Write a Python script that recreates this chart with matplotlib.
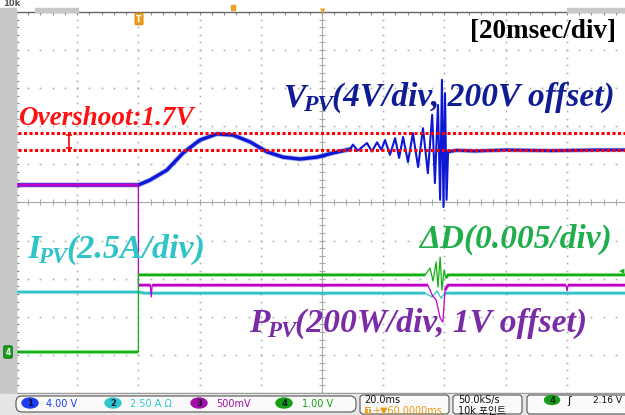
import matplotlib
matplotlib.use('Agg')
import matplotlib.pyplot as plt
from matplotlib.patches import Rectangle, FancyBboxPatch, Ellipse
import numpy as np

W, H = 625, 415

# values
# time in ms (20 ms/div, trigger at 0, 60 ms delay -> centre line at 60 ms)
# levels in screen divisions from the centre graticule line
vpv_rise_t = [-40, 0, 3.8, 9.3, 14.6, 20.1, 25.7, 30.9, 36.5, 42.0, 47.3, 52.8, 58.4, 63.6, 69.2]
vpv_rise_d = [0.46, 0.46, 0.59, 0.85, 1.30, 1.64, 1.80, 1.77, 1.59, 1.33, 1.19, 1.14, 1.19, 1.30, 1.40]

vpv_burst_t = [69.2, 70.1, 71.7, 74.7, 76.3, 78.0, 79.4, 80.6, 82.2, 83.9, 85.2, 86.5, 88.1, 89.7,
               91.4, 93.0, 94.6, 96.0, 96.9, 97.9, 98.6, 99.2, 99.7, 100.2, 100.7, 101.2]
vpv_burst_d = [1.40, 1.52, 1.36, 1.56, 1.34, 1.58, 1.38, 1.64, 1.25, 1.69, 1.17, 1.72, 1.06, 1.82,
               0.93, 1.95, 0.77, 2.30, 0.51, 2.56, 0.07, 3.22, -0.12, 2.87, 0.07, 1.33]

vpv_settle_t = [101.2, 104, 110, 120, 135, 150, 160]
vpv_settle_d = [1.33, 1.37, 1.35, 1.38, 1.36, 1.38, 1.38]

ppv_t = [-40, 0, 0, 3.9, 4.2, 4.5, 94.6, 96.0, 97.3, 98.6, 99.5, 100.2, 101.2, 139.7, 140.1, 140.4, 160]
ppv_d = [0.46, 0.46, -2.17, -2.17, -2.48, -2.17, -2.17, -2.43, -2.56, -3.03, -3.14, -2.30, -2.17,
         -2.17, -2.32, -2.17, -2.17]

dd_t = [-40, 0, 0, 93.7, 95.3, 96.3, 97.3, 97.9, 98.6, 99.2, 99.9, 100.5, 101.2, 160]
dd_d = [-3.92, -3.92, -1.90, -1.90, -1.72, -2.06, -1.56, -2.22, -1.43, -2.30, -1.77, -1.98, -1.90, -1.90]

ipv_t = [-40, 0, 2.0, 93.7, 96.0, 97.6, 98.9, 100.2, 160]
ipv_d = [-2.35, -2.35, -2.38, -2.38, -2.48, -2.32, -2.51, -2.38, -2.38]

# spans where the traces only show thin spikes
spike_windows = [(4.0, 4.4), (94.7, 100.1), (139.8, 140.3)]

overshoot_hi = 1.82   # V_PV peak
overshoot_lo = 1.39   # V_PV settled, 0.43 div * 4 V/div = 1.7 V
overshoot_t = -22.7

ch_nums = ['1', '2', '3', '4']
ch_scales = ['4.00 V', '2.50 A \u03a9', '500mV', '1.00 V']
ch_colors = ['#1c3cf0', '#2ec8cc', '#a010a8', '#14a014']
timebase = '20.0ms'
delay = '60.0000ms'
sample_rate = '50.0kS/s'
record = '10k 포인트'
trig_level = '2.16 V'

c_blue = '#0c18d4'
c_purple = '#c000c8'
c_green = '#12b012'
c_cyan = '#30c2c8'
serif = 'Liberation Serif'

fig = plt.figure(figsize=(W / 100, H / 100), dpi=100)
fig.patch.set_facecolor('white')

ax = fig.add_axes([16 / W, (H - 393) / H, 612 / W, 381 / H])
ax.set_xlim(-40, 160)
ax.set_ylim(-5, 5)
ax.set_xticks([])
ax.set_yticks([])
for s in ax.spines.values():
    s.set_color('#8c8c8c')
    s.set_linewidth(1)
ax.spines['top'].set_color('#666666')

# graticule
minor_d = np.arange(-5, 5.01, 0.2)
minor_t = np.arange(-40, 160.1, 4)
dot = dict(ls='none', marker='s', ms=1.2, mew=0, color='#b0b0b0', zorder=1)
for tv in range(-20, 160, 20):
    if tv != 60:
        ax.plot(np.full(len(minor_d), tv), minor_d, **dot)
for dv in range(-4, 5):
    if dv != 0:
        ax.plot(minor_t, np.full(len(minor_t), dv), **dot)
ax.axvline(60, color='#a8a8a8', lw=0.8, zorder=1)
ax.axhline(0, color='#a8a8a8', lw=0.8, zorder=1)
ax.plot(np.full(len(minor_d), 60), minor_d, ls='none', marker='_', ms=4, mew=0.8, color='#a8a8a8', zorder=1)
ax.plot(minor_t, np.zeros(len(minor_t)), ls='none', marker='|', ms=4, mew=0.8, color='#a8a8a8', zorder=1)
ax.plot(minor_t, np.full(len(minor_t), 5), ls='none', marker='|', ms=5, mew=0.8, color='#8c8c8c', zorder=1)
ax.plot(np.full(len(minor_d), -40), minor_d, ls='none', marker='_', ms=5, mew=0.8, color='#8c8c8c', zorder=1)


def trace(t, d, color, lw, z):
    t = np.asarray(t, dtype=float)
    d = np.asarray(d, dtype=float)
    ax.plot(t, d, color=color, lw=0.9, zorder=z)
    # thick noisy band only on the quiet parts; steps and spikes stay thin
    quiet = d.copy()
    for a, b in spike_windows:
        quiet[(t > a) & (t < b)] = np.nan
    jumps = np.where(np.diff(t) == 0)[0] + 1
    for tt, yy in zip(np.split(t, jumps), np.split(quiet, jumps)):
        ax.plot(tt, yy, color=color, lw=lw + 1.2, alpha=0.35, zorder=z, solid_capstyle='butt')
        ax.plot(tt, yy, color=color, lw=lw, zorder=z, solid_capstyle='butt')


ax.plot(vpv_rise_t, vpv_rise_d, color=c_blue, lw=3.6, alpha=0.35, zorder=3)
ax.plot(vpv_rise_t, vpv_rise_d, color=c_blue, lw=2.4, zorder=3)
ax.plot(vpv_burst_t, vpv_burst_d, color=c_blue, lw=1.5, zorder=3)
ax.plot(vpv_settle_t, vpv_settle_d, color=c_blue, lw=3.2, alpha=0.35, zorder=3)
ax.plot(vpv_settle_t, vpv_settle_d, color=c_blue, lw=2.0, zorder=3)
trace(ipv_t, ipv_d, c_cyan, 1.7, 4)
trace(ppv_t, ppv_d, c_purple, 1.7, 5)
trace(dd_t, dd_d, c_green, 1.7, 6)

# overshoot markers
for lvl in (overshoot_hi, overshoot_lo):
    ax.plot([-42.9, 165], [lvl, lvl], color='#ff0000', lw=2.2, ls=(0, (1, 0.8)),
            dash_capstyle='butt', clip_on=False, zorder=7)
ax.plot([overshoot_t, overshoot_t], [overshoot_lo, overshoot_hi], color='#ff0000', lw=1.2, zorder=7)
ax.plot([overshoot_t, overshoot_t], [overshoot_lo + 0.05, overshoot_hi - 0.05], ls='none',
        marker='_', ms=4, mew=1.2, color='#ff0000', zorder=7)

# overlay in pixel coordinates for the scope frame and the annotations
ov = fig.add_axes([0, 0, 1, 1], zorder=5)
ov.set_xlim(0, W)
ov.set_ylim(H, 0)
ov.axis('off')
ov.patch.set_visible(False)

ov.add_patch(Rectangle((0, 8), 15.5, 387, color='#c8c8c8', zorder=1))
ov.add_patch(Rectangle((35, 8), 43, 4, color='#c8c8c8', zorder=1))
ov.add_patch(Rectangle((567, 8), 60, 4, color='#c8c8c8', zorder=1))
ov.add_patch(Rectangle((0, 394), W, 21, color='#e6e6e6', zorder=1))
ov.text(3, 3, '10k', fontsize=6, color='#555555', fontweight='bold', va='center', zorder=2)

# trigger / expansion markers
ov.text(139, 19, 'T', fontsize=5.5, color='white', fontweight='bold', ha='center', va='center',
        bbox=dict(boxstyle='round,pad=0.15', fc='#f0a020', ec='#e09010'), zorder=3)
ov.add_patch(Rectangle((231, 5), 4, 5, color='#f0a020', zorder=3))
ov.text(323, 11, '\u25bc', fontsize=5, color='#f0a020', ha='center', va='center', zorder=3)
ov.text(8, 352, '4', fontsize=5.5, color='white', fontweight='bold', ha='center', va='center',
        bbox=dict(boxstyle='round,pad=0.2', fc='#20a020', ec='#108010'), zorder=3)
ov.text(622, 271, '\u25c0', fontsize=5, color=c_green, ha='center', va='center', zorder=3)

lab = dict(family=serif, fontweight='bold', fontstyle='italic', zorder=8)


def sublabel(x, y, main, sub, rest, size, subsize, color):
    t1 = ov.text(x, y, main, fontsize=size, color=color, ha='left', va='baseline', **lab)
    t2 = ov.annotate(sub, xy=(1, 0), xycoords=t1, xytext=(-1.5, -2), textcoords='offset points',
                     fontsize=subsize, color=color, ha='left', va='bottom', **lab)
    ov.annotate(rest, xy=(1, 0), xycoords=(t2, t1), xytext=(-1, 0), textcoords='offset points',
                fontsize=size, color=color, ha='left', va='bottom', **lab)


ov.text(470, 38, '[20msec/div]', fontsize=19.5, family=serif, fontweight='bold', color='black',
        va='baseline', zorder=8)
ov.text(18, 125, 'Overshoot:1.7V', fontsize=19.5, color='#ff1010', va='baseline', **lab)
sublabel(283, 106, 'V', 'PV', '(4V/div, 200V offset)', 24, 17, '#101c94')
sublabel(27, 258, 'I', 'PV', '(2.5A/div)', 24.5, 16.5, '#2fc4c8')
ov.text(419, 248, '\u0394D(0.005/div)', fontsize=24, color='#1fae4a', va='baseline', **lab)
sublabel(249, 332, 'P', 'PV', '(200W/div, 1V offset)', 24.2, 16.5, '#7a2ca6')

# status line
mono = ['DejaVu Sans', 'Noto Sans CJK KR']
box = dict(fc='#fafafa', ec='#555555', lw=0.8, zorder=2)
ov.add_patch(FancyBboxPatch((16, 396), 340, 16, boxstyle='round,pad=0,rounding_size=6', **box))
ov.add_patch(FancyBboxPatch((360, 395), 89, 19, boxstyle='round,pad=0,rounding_size=3', **box))
ov.add_patch(FancyBboxPatch((453, 395), 69, 19, boxstyle='round,pad=0,rounding_size=3', **box))
ov.add_patch(FancyBboxPatch((527, 395), 110, 19, boxstyle='round,pad=0,rounding_size=3', **box))

badge_x = [30, 113, 199, 284]
text_x = [46, 130, 216, 302]
for num, scale, col, bx, tx in zip(ch_nums, ch_scales, ch_colors, badge_x, text_x):
    ov.add_patch(Ellipse((bx, 403), 16, 10, color=col, zorder=3))
    ov.text(bx, 403.5, num, fontsize=6, color='#101030', fontweight='bold', ha='center', va='center', zorder=4)
    ov.text(tx, 403.5, scale, fontsize=7, color=col, family=mono, va='center', zorder=4)

ov.text(364, 400, timebase, fontsize=7, color='#111111', family=mono, va='center', zorder=4)
ov.text(368, 410.5, 'T', fontsize=5, color='white', fontweight='bold', ha='center', va='center',
        bbox=dict(boxstyle='square,pad=0.1', fc='#f0a020', ec='none'), zorder=4)
ov.text(372, 410.5, '+\u25bc' + delay, fontsize=7, color='#e89a10', family=mono, va='center', zorder=4)
ov.text(458, 400, sample_rate, fontsize=7, color='#111111', family=mono, va='center', zorder=4)
ov.text(458, 410.5, record, fontsize=7, color='#111111', family=mono, va='center', zorder=4)
ov.add_patch(Ellipse((552, 400), 15, 9, color=ch_colors[3], zorder=3))
ov.text(552, 400.5, ch_nums[3], fontsize=6, color='#102010', fontweight='bold', ha='center', va='center', zorder=4)
ov.text(569, 400.5, '\u0283', fontsize=8, color='#111111', family=mono, ha='center', va='center', zorder=4)
ov.text(593, 400.5, trig_level, fontsize=6.5, color='#111111', family=mono, va='center', zorder=4)

fig.savefig('out.png', dpi=100)
